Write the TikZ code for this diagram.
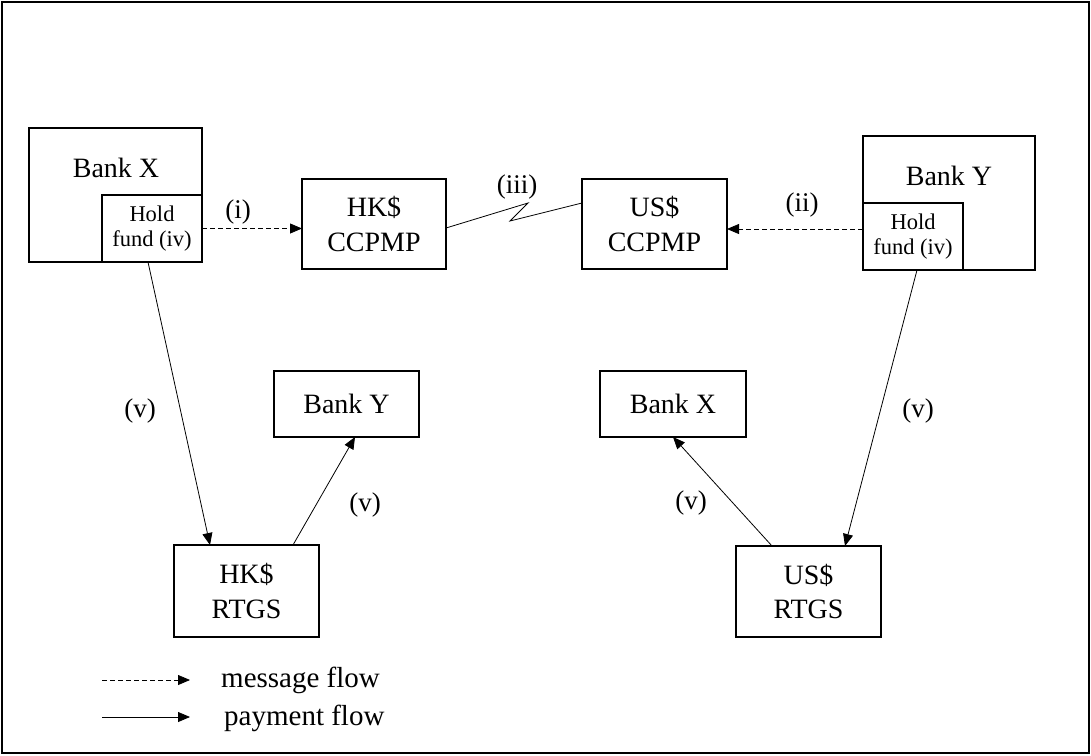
\documentclass[tikz,border=0pt]{standalone}
\usepackage{fontspec}
\setmainfont{Liberation Serif}
\usetikzlibrary{arrows.meta}
\tikzset{
  box/.style={draw, line width=1.1pt, inner sep=0pt, outer sep=0pt, align=center,
    font=\fontsize{28}{34.5}\selectfont},
  holdbox/.style={draw, line width=1.1pt, inner sep=0pt, outer sep=0pt, align=center,
    font=\fontsize{22.5}{25}\selectfont, fill=white},
  lbl/.style={font=\fontsize{27}{30}\selectfont, inner sep=0pt},
  legtxt/.style={font=\fontsize{29}{32}\selectfont, inner sep=0pt, anchor=west},
  pay/.style={line width=0.8pt, -{Triangle[length=12pt,width=10pt]}},
  msg/.style={line width=0.8pt, dash pattern=on 5pt off 3pt, -{Triangle[length=12pt,width=10pt]}},
  bigtxt/.style={font=\fontsize{28}{32}\selectfont, inner sep=0pt}
}
\begin{document}
\begin{tikzpicture}[x=1pt,y=-1pt]
\useasboundingbox (0,0) rectangle (1091,755);
\draw[line width=1.5pt] (2,2) rectangle (1089,753);

% Bank X with hold fund
\node[box, minimum width=173pt, minimum height=134pt] (bankX) at (115.5,195) {};
\node[bigtxt] (bankXt) at (116,168) {Bank X};
\node[holdbox, minimum width=100pt, minimum height=67pt] (holdX) at (152,228.5) {Hold\\fund (iv)};

% Bank Y with hold fund
\node[box, minimum width=172pt, minimum height=134pt] (bankY) at (949,203) {};
\node[bigtxt] (bankYt) at (949,176) {Bank Y};
\node[holdbox, minimum width=100pt, minimum height=67pt] (holdY) at (913,236.5) {Hold\\fund (iv)};

% CCPMP
\node[box, minimum width=144pt, minimum height=90pt] (hkc) at (374,224) {HK\$\\CCPMP};
\node[box, minimum width=145pt, minimum height=90pt] (usc) at (654.5,224) {US\$\\CCPMP};

% lower banks
\node[box, minimum width=145pt, minimum height=66pt] (bankYl) at (346.5,404) {Bank Y};
\node[box, minimum width=146pt, minimum height=66pt] (bankXl) at (673,404) {Bank X};

% RTGS
\node[box, minimum width=145pt, minimum height=92pt] (hkr) at (246.5,591) {HK\$\\RTGS};
\node[box, minimum width=145pt, minimum height=91pt] (usr) at (808.5,591.5) {US\$\\RTGS};

% message flows
\draw[msg] (holdX.east) -- (holdX.east -| hkc.west);
\node[lbl] (li) at (238,212) {(i)};
\draw[msg] ([yshift=7.5pt]holdY.west) -- ([yshift=7.5pt]holdY.west -| usc.east);
\node[lbl] (lii) at (802,205) {(ii)};

% zigzag link
\coordinate (z1) at (528,203);
\coordinate (z2) at (510,221);
\draw[line width=0.8pt] ([yshift=-4pt]hkc.east) -- (z1) -- (z2) -- ([yshift=21pt]usc.west);
\node[lbl] (liii) at (517,187) {(iii)};

% payment flows
\draw[pay] ([xshift=-4pt]holdX.south) -- ([xshift=-36.5pt]hkr.north);
\node[lbl] (lv1) at (140,411) {(v)};
\draw[pay] ([xshift=46.5pt]hkr.north) -- ([xshift=8.5pt]bankYl.south);
\node[lbl] (lv2) at (365,505) {(v)};
\draw[pay] ([xshift=4pt]holdY.south) -- ([xshift=36.5pt]usr.north);
\node[lbl] (lv3) at (918,411) {(v)};
\draw[pay] ([xshift=-36.5pt]usr.north) -- (bankXl.south);
\node[lbl] (lv4) at (691,503) {(v)};

% legend
\coordinate (m1) at (102,680);
\coordinate (m2) at (190,680);
\coordinate (p1) at (102,717);
\coordinate (p2) at (190,717);
\draw[msg] (m1) -- (m2);
\draw[pay] (p1) -- (p2);
\node[legtxt] (mt) at (221,680) {message flow};
\node[legtxt] (pt) at (224,718) {payment flow};
\end{tikzpicture}
\end{document}
